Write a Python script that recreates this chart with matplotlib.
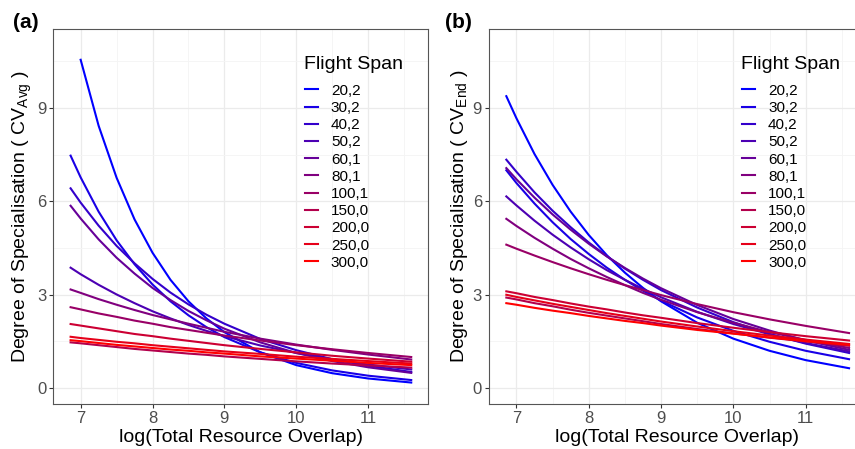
# Degree of specialisation vs log(total resource overlap), two panels (CV Avg / CV End)

import numpy as np
import matplotlib
matplotlib.use("Agg")
import matplotlib.pyplot as plt
from matplotlib.colors import LinearSegmentedColormap

plt.rcParams['font.family'] = ['Liberation Sans', 'DejaVu Sans']

log_overlap = [6.86, 7.0, 7.25, 7.5, 7.75, 8.0, 8.25, 8.5, 8.75, 9.0, 9.5, 10.0, 10.5, 11.0, 11.6]

flight_span = ['20,2', '30,2', '40,2', '50,2', '60,1', '80,1',
               '100,1', '150,0', '200,0', '250,0', '300,0']

# panel (a): CV Avg
cv_avg_20_2 = [np.nan, 10.55, 8.43, 6.76, 5.42, 4.35, 3.48, 2.79, 2.24, 1.80, 1.15, 0.74, 0.48, 0.31, 0.18]
cv_avg_30_2 = [7.47, 6.77, 5.67, 4.75, 3.98, 3.33, 2.79, 2.34, 1.96, 1.64, 1.15, 0.81, 0.57, 0.40, 0.26]
cv_avg_40_2 = [6.42, 5.96, 5.22, 4.57, 4.01, 3.51, 3.07, 2.69, 2.36, 2.07, 1.58, 1.22, 0.93, 0.72, 0.52]
cv_avg_50_2 = [3.87, 3.66, 3.32, 3.01, 2.73, 2.47, 2.24, 2.03, 1.84, 1.67, 1.37, 1.13, 0.93, 0.76, 0.60]
cv_avg_60_1 = [5.86, 5.45, 4.78, 4.19, 3.68, 3.22, 2.83, 2.48, 2.18, 1.91, 1.47, 1.13, 0.87, 0.67, 0.49]
cv_avg_80_1 = [3.17, 3.06, 2.86, 2.68, 2.51, 2.35, 2.21, 2.07, 1.94, 1.81, 1.59, 1.40, 1.23, 1.08, 0.92]
cv_avg_100_1 = [2.60, 2.53, 2.40, 2.29, 2.17, 2.07, 1.96, 1.87, 1.78, 1.69, 1.53, 1.38, 1.25, 1.13, 1.00]
cv_avg_150_0 = [1.47, 1.44, 1.38, 1.32, 1.26, 1.21, 1.16, 1.11, 1.07, 1.02, 0.94, 0.86, 0.79, 0.73, 0.66]
cv_avg_200_0 = [2.06, 2.01, 1.92, 1.83, 1.74, 1.67, 1.59, 1.52, 1.45, 1.38, 1.26, 1.15, 1.04, 0.95, 0.85]
cv_avg_250_0 = [1.65, 1.61, 1.55, 1.49, 1.44, 1.38, 1.33, 1.28, 1.23, 1.18, 1.10, 1.01, 0.94, 0.87, 0.79]
cv_avg_300_0 = [1.54, 1.51, 1.45, 1.39, 1.34, 1.29, 1.24, 1.20, 1.15, 1.11, 1.02, 0.95, 0.88, 0.81, 0.74]

# panel (b): CV End
cv_end_20_2 = [9.38, 8.67, 7.52, 6.53, 5.67, 4.92, 4.27, 3.71, 3.22, 2.79, 2.10, 1.59, 1.20, 0.90, 0.64]
cv_end_30_2 = [7.00, 6.59, 5.93, 5.33, 4.79, 4.31, 3.87, 3.48, 3.13, 2.81, 2.27, 1.84, 1.49, 1.20, 0.93]
cv_end_40_2 = [7.34, 6.95, 6.29, 5.70, 5.17, 4.68, 4.24, 3.84, 3.48, 3.15, 2.59, 2.12, 1.74, 1.43, 1.13]
cv_end_50_2 = [6.16, 5.87, 5.38, 4.93, 4.52, 4.14, 3.79, 3.48, 3.19, 2.92, 2.45, 2.06, 1.73, 1.45, 1.18]
cv_end_60_1 = [7.07, 6.71, 6.12, 5.58, 5.09, 4.64, 4.23, 3.86, 3.52, 3.21, 2.67, 2.22, 1.85, 1.53, 1.23]
cv_end_80_1 = [5.44, 5.21, 4.83, 4.48, 4.15, 3.85, 3.57, 3.31, 3.06, 2.84, 2.44, 2.10, 1.80, 1.55, 1.29]
cv_end_100_1 = [4.61, 4.48, 4.26, 4.05, 3.85, 3.66, 3.48, 3.31, 3.15, 2.99, 2.70, 2.44, 2.21, 2.00, 1.77]
cv_end_150_0 = [2.91, 2.85, 2.73, 2.63, 2.52, 2.42, 2.33, 2.24, 2.15, 2.06, 1.90, 1.76, 1.62, 1.50, 1.36]
cv_end_200_0 = [3.11, 3.05, 2.93, 2.83, 2.72, 2.62, 2.53, 2.43, 2.34, 2.26, 2.09, 1.94, 1.80, 1.67, 1.53]
cv_end_250_0 = [3.00, 2.93, 2.82, 2.71, 2.61, 2.51, 2.41, 2.32, 2.23, 2.14, 1.98, 1.83, 1.69, 1.56, 1.42]
cv_end_300_0 = [2.73, 2.68, 2.58, 2.49, 2.41, 2.32, 2.24, 2.16, 2.09, 2.01, 1.87, 1.75, 1.63, 1.51, 1.39]

panel_a = [cv_avg_20_2, cv_avg_30_2, cv_avg_40_2, cv_avg_50_2, cv_avg_60_1, cv_avg_80_1,
           cv_avg_100_1, cv_avg_150_0, cv_avg_200_0, cv_avg_250_0, cv_avg_300_0]
panel_b = [cv_end_20_2, cv_end_30_2, cv_end_40_2, cv_end_50_2, cv_end_60_1, cv_end_80_1,
           cv_end_100_1, cv_end_150_0, cv_end_200_0, cv_end_250_0, cv_end_300_0]

cmap = LinearSegmentedColormap.from_list("br", ["#0000FF", "#FF0000"])
colors = [cmap(i / (len(flight_span) - 1)) for i in range(len(flight_span))]

fig = plt.figure(figsize=(8.55, 4.49), dpi=100)
ax_a = fig.add_axes([0.0624, 0.0995, 0.4379, 0.836])
ax_b = fig.add_axes([0.5719, 0.0995, 0.4406, 0.836])


def style_axes(ax, sub):
    ax.set_xlim(6.62, 11.83)
    ax.set_ylim(-0.52, 11.54)
    ax.set_xticks([7, 8, 9, 10, 11])
    ax.set_yticks([0, 3, 6, 9])
    ax.set_xticks([7.5, 8.5, 9.5, 10.5, 11.5], minor=True)
    ax.set_yticks([1.5, 4.5, 7.5, 10.5], minor=True)
    ax.grid(which='major', color='#EBEBEB', lw=0.9)
    ax.grid(which='minor', color='#F4F4F4', lw=0.6)
    ax.set_axisbelow(True)
    ax.tick_params(which='major', length=3, color='#333333', labelsize=12,
                   labelcolor='#4D4D4D', pad=2)
    ax.tick_params(which='minor', length=0)
    for s in ax.spines.values():
        s.set_color('#555555')
        s.set_linewidth(0.8)
    ax.set_xlabel('log(Total Resource Overlap)', fontsize=14, labelpad=2)
    ax.set_ylabel('Degree of Specialisation ( CV$_{\\mathregular{' + sub + '}}$ )',
                  fontsize=14, labelpad=2)


for ax, series, sub in [(ax_a, panel_a, 'Avg'), (ax_b, panel_b, 'End')]:
    for name, vals, c in zip(flight_span, series, colors):
        ax.plot(log_overlap, vals, color=c, lw=1.5, label=name)
    style_axes(ax, sub)
    ax.text(0.669, 0.904, 'Flight Span', transform=ax.transAxes, fontsize=14, va='center')
    ax.legend(loc='upper left', bbox_to_anchor=(0.672, 0.854), frameon=False,
              fontsize=11, handlelength=0.85, handletextpad=0.85, labelspacing=0.21,
              borderpad=0, borderaxespad=0)

fig.text(0.015, 0.951, '(a)', fontsize=15, fontweight='bold', va='center')
fig.text(0.521, 0.951, '(b)', fontsize=15, fontweight='bold', va='center')

fig.savefig('out.png', dpi=100)
